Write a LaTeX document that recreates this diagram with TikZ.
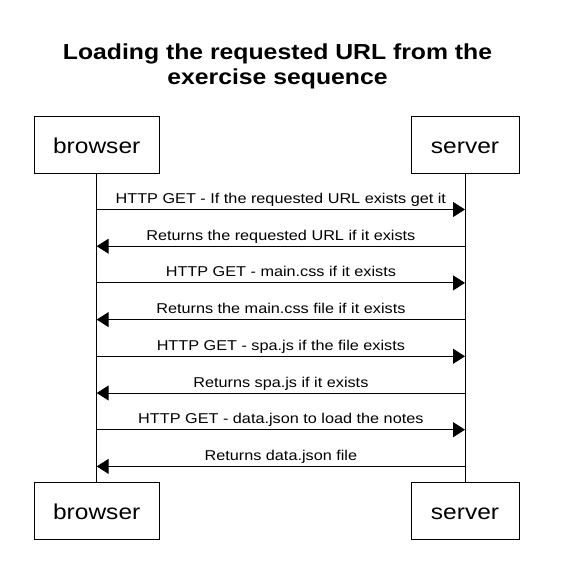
\documentclass[tikz,border=0pt]{standalone}
\usepackage{fontspec}
\setmainfont{Liberation Sans}[FakeStretch=1.14]
\usetikzlibrary{arrows.meta}

\begin{document}
\begin{tikzpicture}[x=1bp,y=-1bp,
    actor/.style={draw,line width=1bp,minimum height=56.6bp,inner sep=0pt,text height=16.6bp,text depth=0bp,font=\fontsize{21.6}{24}\selectfont},
    msg/.style={line width=1bp,-{Triangle[length=12bp,width=15bp]}},
    msglabel/.style={midway,anchor=base,yshift=6bp,inner sep=0pt,font=\fontsize{14.3}{16}\selectfont}]
  \useasboundingbox (0,0) rectangle (566,584);
  % title
  \node[anchor=north,align=center,inner sep=0pt,font=\bfseries\fontsize{21.8}{25.5}\selectfont] (title) at (277.5,43.5) {Loading the requested URL from the\\exercise sequence};
  % actors and lifelines
  \node[actor,minimum width=125.3bp] (browser) at (96.7,145) {browser};
  \node[actor,minimum width=108bp] (server) at (465,145) {server};
  \node[actor,minimum width=125.3bp] (browserend) at (96.7,511) {browser};
  \node[actor,minimum width=108bp] (serverend) at (465,511) {server};
  \draw[line width=1bp] (browser) -- (browserend);
  \draw[line width=1bp] (server) -- (serverend);
  % messages
  \foreach \i/\from/\to/\txt in {
      1/browser/server/{HTTP GET - If the requested URL exists get it},
      2/server/browser/{Returns the requested URL if it exists},
      3/browser/server/{HTTP GET - main.css if it exists},
      4/server/browser/{Returns the main.css file if it exists},
      5/browser/server/{HTTP GET - spa.js if the file exists},
      6/server/browser/{Returns spa.js if it exists},
      7/browser/server/{HTTP GET - data.json to load the notes},
      8/server/browser/{Returns data.json file}} {
    \pgfmathsetmacro\ypos{172.8+36.7*\i}
    \coordinate (start\i) at (\from |- 0,\ypos);
    \coordinate (end\i) at (\to |- 0,\ypos);
    \draw[msg] (start\i) -- node[msglabel] (label\i) {\txt} (end\i);
  }
\end{tikzpicture}
\end{document}
